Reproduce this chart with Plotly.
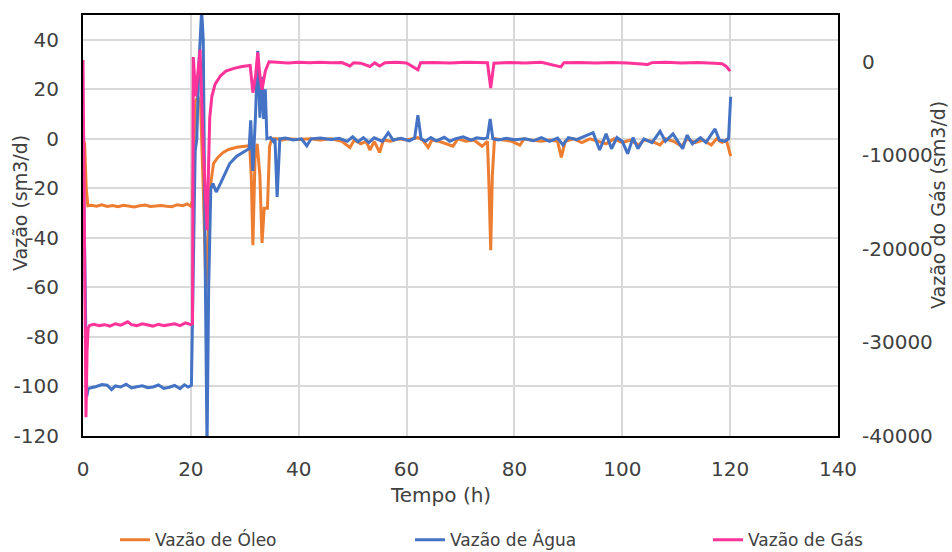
import plotly.graph_objects as go

# --- Vazão de Óleo (sm3/d), eixo esquerdo ---
t_oleo = [0, 0.3, 0.6, 0.9, 1.5, 2.5, 3.5, 4.5, 5.5, 6.5, 7.5, 8.5, 9.5, 10.5, 11.5, 12.5,
          13.5, 14.5, 15.5, 16.5, 17.5, 18.5, 19.3, 20.0, 20.3, 20.8, 21.3, 21.8, 22.3, 22.8,
          23.2, 23.7, 24.2, 25.0, 26.0, 27.0, 28.5, 30.0, 30.9, 31.2, 31.5, 31.9, 32.3, 32.8,
          33.2, 33.6, 34.2, 34.6, 35.0, 36, 37, 38, 40, 42, 44, 46, 48, 49.5, 50.3, 51.5,
          52.5, 53.2, 54, 55, 55.7, 57, 58.5, 60, 61.5, 62.1, 63, 64, 64.7, 66, 68.6, 69.5,
          71, 72.5, 74, 75, 75.3, 75.6, 75.9, 76.3, 78, 79.5, 81, 81.8, 83, 85, 86.5, 88.0,
          88.7, 89.4, 91, 92.5, 94, 95.5, 97, 98.5, 100, 101.5, 103, 104, 105.5, 107, 108,
          109.5, 111, 112, 113.5, 115, 116.5, 117.5, 118.5, 119.3, 119.8, 120.1]
oleo = [0, -2, -20, -27, -26.8, -27.2, -26.6, -27.3, -26.9, -27.4, -26.8, -27.1, -27.5, -27.0,
        -26.7, -27.3, -27.1, -26.9, -27.2, -27.4, -26.6, -27.0, -26.3, -27.2, -25, 15, 17, 14,
        -20, -60, -40, -18, -10, -7.5, -5.5, -4.3, -3.4, -3.0, -2.8, -15, -43, -8, -2, -15,
        -42, -28, -28, -3, 0, 0, -0.5, 0, -0.3, 0, -0.5, 0, -1, -3.5, -0.5, -2, -1, -4.5, -1,
        -5.5, -0.5, -1, 0, -0.5, 0, 0.5, -0.5, -3.5, -0.5, -1, -3, 0, -1, -0.5, -3, -1, -20,
        -45, -15, 0, -0.5, -1, -2.5, 0, -0.5, -1, -0.5, -1, -7.5, -1, 0, -1.5, 0, -1, -2, 0,
        -1.5, -0.5, -2.5, -0.5, -1, -2.5, 0, -1, -3, 0, -1.5, -0.5, -2.5, 0, -1.5, -0.5, -4, -7]

# --- Vazão de Água (sm3/d), eixo esquerdo ---
t_agua = [0, 0.2, 0.45, 0.7, 0.95, 1.5, 2.5, 3.5, 4.5, 5.3, 6, 7, 8, 9, 10, 11, 12, 13, 14, 15,
          16, 17, 18, 18.8, 19.5, 20.1, 20.4, 20.8, 21.1, 21.5, 22.0, 22.3, 22.7, 23.0, 23.3,
          23.7, 24.1, 24.7, 25.5, 26.3, 27.2, 28.5, 29.5, 30.4, 30.8, 31.1, 31.5, 32.0, 32.4,
          32.8, 33.2, 33.5, 33.8, 34.1, 34.8, 35.3, 35.6, 36.0, 36.5, 37.5, 39, 40.5, 41.5,
          42.3, 44, 46, 47.5, 49, 50, 51, 52, 53, 54, 55.5, 56.6, 57.5, 59, 60.5, 61.5, 62.1,
          62.7, 63.5, 64.5, 65.5, 67, 68, 69, 70.5, 72, 73, 74.3, 75.0, 75.5, 76.0, 77, 78.5,
          80, 82, 83.5, 85, 86.5, 88, 89, 90, 91.5, 93, 94.6, 95.8, 97, 98, 99, 100, 101, 102,
          102.9, 104, 105.5, 107, 108, 109.4, 110.3, 111.2, 112, 113, 114.5, 115.5, 117.2,
          118, 119, 119.7, 120.1]
agua = [0, -30, -85, -104, -101, -100.5, -100, -99.2, -99.5, -101.3, -99.8, -100.2, -99.1,
        -100.6, -100.1, -99.7, -100.5, -100.2, -99.4, -100.8, -100.3, -99.6, -100.9, -99.3,
        -100.2, -99.5, -60, -5, 0, 30, 52, 40, -60, -125, -60, -20, -18, -21.5, -18, -14, -10,
        -7, -5.5, -4.5, -4, 7.5, -13, 10, 35.5, 8.5, 25, 8, 20, 0, 0.5, -1, 0, -23.5, 0, 0.3,
        -0.5, 0, -2.8, 0, 0.3, -0.3, 0.2, -1, 0.8, -1.2, 0.5, -1.5, 0.4, -1, 2.5, -0.5, 0.2,
        -0.8, 0.3, 9.5, 0, -1, 0.5, -0.8, 0.6, -1, 0, 0.8, -0.5, 0.4, 0, 0.5, 8, 0, -0.5, 0.2,
        -0.4, 0, -0.8, 0.5, -1, 0.3, -2.5, 0.5, -0.3, 1, 2.5, -4.5, 2, -4, 0.5, -1, -6, 0.5,
        -4, 0, -1.5, 3, -1, 2, -1, -4, 1.5, -2, 0.5, -1.5, 4, -0.5, -1, 0, 17]

# --- Vazão de Gás (sm3/d), eixo direito ---
t_gas = [0, 0.15, 0.35, 0.55, 0.75, 0.95, 1.2, 2, 3, 4, 5, 6, 7, 8.3, 9, 10, 11, 12, 13, 14,
         15, 16, 17, 18, 19, 20.0, 20.3, 20.45, 20.9, 21.7, 22.3, 23.0, 23.5, 23.9, 24.5,
         25.5, 26.5, 28, 29.5, 31.0, 31.5, 32.0, 32.4, 32.8, 33.2, 33.8, 34.5, 36, 38, 40,
         42, 44, 46, 48, 49.5, 50.2, 51.5, 53.2, 54.1, 55, 56, 58, 60, 62.1, 62.6, 65, 68,
         71, 75.0, 75.6, 76.2, 79, 82, 85, 88.6, 89.2, 92, 95, 98, 101, 104.7, 105.5, 108,
         111, 114, 117, 118.5, 119.3, 120]
gas = [200, -12000, -30000, -38000, -31000, -28500, -28200, -28050, -28200, -28100, -28250,
       -28000, -28150, -27800, -28100, -28200, -28000, -28150, -28250, -28050, -28200, -28100,
       -28000, -28200, -27900, -28100, -28000, 500, -3700, 1300, -9000, -18000, -6000, -3700,
       -2400, -1500, -1000, -700, -500, -400, -3300, -1500, 1000, -1500, -3000, -1000, 0, -50,
       -120, -60, -100, -40, -110, -80, -450, -100, -150, -500, -120, -450, -100, -60, -130,
       -850, -100, -80, -140, -60, -100, -2800, -150, -90, -130, -60, -550, -100, -70, -130,
       -80, -120, -300, -90, -60, -130, -90, -150, -200, -500, -1000]

x_ticks = [0, 20, 40, 60, 80, 100, 120, 140]
y_ticks = [-120, -100, -80, -60, -40, -20, 0, 20, 40]
y2_ticks = [-40000, -30000, -20000, -10000, 0]

FONT = "DejaVu Sans"
TXT = "#404040"

fig = go.Figure()
fig.add_trace(go.Scatter(x=t_oleo, y=oleo, mode="lines", name="Vazão de Óleo",
                         line=dict(color="#ED7D31", width=3), legend="legend"))
fig.add_trace(go.Scatter(x=t_agua, y=agua, mode="lines", name="Vazão de Água",
                         line=dict(color="#4472C4", width=3), legend="legend2"))
fig.add_trace(go.Scatter(x=t_gas, y=gas, mode="lines", name="Vazão de Gás", yaxis="y2",
                         line=dict(color="#FF3399", width=3), legend="legend3"))

# one legend box per series, spread along the bottom
leg_common = dict(orientation="h", xanchor="left", y=-0.205, yanchor="top",
                  font=dict(family=FONT, size=17, color=TXT), bgcolor="rgba(0,0,0,0)")

fig.update_layout(
    width=952, height=552,
    margin=dict(l=83, r=114, t=15, b=116, autoexpand=False),
    paper_bgcolor="white", plot_bgcolor="white",
    font=dict(family=FONT, size=20, color=TXT),
    showlegend=True,
    legend=dict(x=(115 - 83) / 755, **leg_common),
    legend2=dict(x=(410 - 83) / 755, **leg_common),
    legend3=dict(x=(708 - 83) / 755, **leg_common),
    xaxis=dict(range=[0, 140], tickvals=x_ticks, ticktext=[str(v) for v in x_ticks],
               showgrid=True, gridcolor="#d9d9d9", gridwidth=1.5, zeroline=False,
               showline=True, linecolor="black", linewidth=2, mirror=True,
               ticks="", ticklabelstandoff=14, tickfont=dict(size=20), automargin=False),
    yaxis=dict(range=[-120, 50], tickvals=y_ticks,
               ticktext=["-" + str(-v) if v < 0 else str(v) for v in y_ticks],
               showgrid=True, gridcolor="#d9d9d9", gridwidth=1.5, zeroline=False,
               showline=True, linecolor="black", linewidth=2,
               ticks="", ticklabelstandoff=18, tickfont=dict(size=20), automargin=False),
    yaxis2=dict(range=[-40000, 5000], tickvals=y2_ticks,
                ticktext=["-" + str(-v) if v < 0 else str(v) for v in y2_ticks],
                overlaying="y", side="right", showgrid=False, zeroline=False,
                showline=True, linecolor="black", linewidth=2,
                ticks="", ticklabelstandoff=18, tickfont=dict(size=20), automargin=False),
    annotations=[
        dict(text="Tempo (h)", xref="paper", yref="paper", x=(440 - 83) / 755,
             y=(436 - 495) / 421, showarrow=False, font=dict(size=20),
             xanchor="center", yanchor="middle"),
        dict(text="Vazão (sm3/d)", xref="paper", yref="paper", x=(20 - 83) / 755,
             y=(436 - 203) / 421, showarrow=False, textangle=-90, font=dict(size=19),
             xanchor="center", yanchor="middle"),
        dict(text="Vazão do Gás (sm3/d)", xref="paper", yref="paper", x=(938 - 83) / 755,
             y=(436 - 205) / 421, showarrow=False, textangle=-90, font=dict(size=19),
             xanchor="center", yanchor="middle"),
    ],
)

fig.write_html("out.html")
